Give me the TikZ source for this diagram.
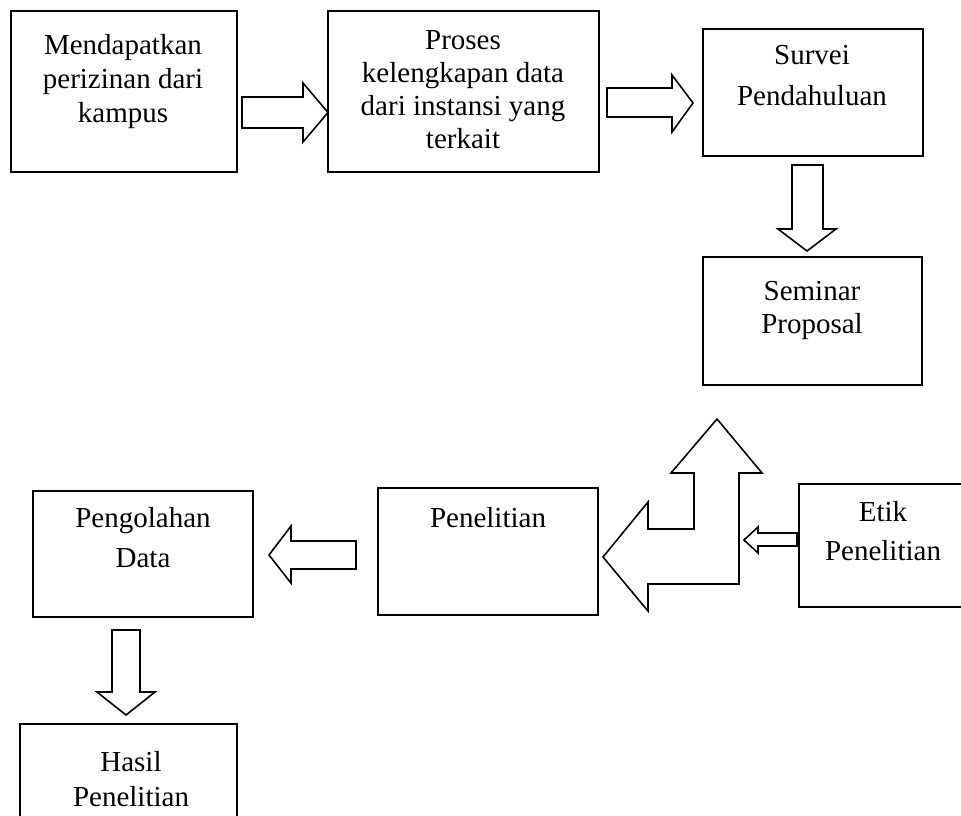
\documentclass[tikz,border=0pt]{standalone}
\usepackage{fontspec}
\setmainfont{Liberation Serif}
\usetikzlibrary{fit}
\tikzset{
  box/.style={draw=black, line width=1.6pt, inner sep=0pt, fill=white},
  txt/.style={align=center, inner sep=0pt, font=\fontsize{29}{34}\selectfont},
  blockarrow/.style={draw=black, line width=1.6pt, line join=miter, fill=white},
}
\begin{document}
\begin{tikzpicture}[x=1pt,y=-1pt]
\clip (0,0) rectangle (961,815);
\fill[white] (0,0) rectangle (961,815);

% boxes
\node[box, fit={(11,11) (237,172)}] (b1) {};
\node[box, fit={(328,11) (599,172)}] (b2) {};
\node[box, fit={(703,29) (923,156)}] (b3) {};
\node[box, fit={(703,257) (922,385)}] (b4) {};
\node[box, fit={(378,488) (598,615)}] (pen) {};
\node[box, fit={(33,491) (253,617)}] (olah) {};
\node[box, fit={(799,484) (975,607)}] (etik) {};
\node[box, fit={(20,724) (237,830)}] (hasil) {};

% texts
\node[txt] (t1) at (123,82) {Mendapatkan\\perizinan dari\\kampus};
\node[txt, font=\fontsize{29}{33}\selectfont] (t2) at (463,89.5) {Proses\\kelengkapan data\\dari instansi yang\\terkait};
\node[txt, font=\fontsize{29}{41}\selectfont] (t3) at (812,76) {Survei\\Pendahuluan};
\node[txt, font=\fontsize{29}{33}\selectfont] (t4) at (812,310) {Seminar\\Proposal};
\node[txt, anchor=base] (t5) at (488,527) {Penelitian};
\node[txt, font=\fontsize{29}{40}\selectfont] (t6) at (143,538) {Pengolahan\\Data};
\node[txt, font=\fontsize{29}{39}\selectfont] (t7) at (883,531.5) {Etik\\Penelitian};
\node[txt, font=\fontsize{29}{35}\selectfont] (t8) at (131,779.5) {Hasil\\Penelitian};

% b1 -> b2
\draw[blockarrow] (242,97) -- (303,97) -- (303,83) -- (328,112.5) -- (303,142) -- (303,128) -- (242,128) -- cycle;
% b2 -> b3
\draw[blockarrow] (607,88) -- (672,88) -- (672,75) -- (693,103) -- (672,132) -- (672,117) -- (607,117) -- cycle;
% b3 -> b4
\draw[blockarrow] (792,165) -- (823,165) -- (823,229) -- (836,229) -- (807,251) -- (778,229) -- (792,229) -- cycle;
% bent arrow (up to seminar, left to penelitian)
\draw[blockarrow] (717,419) -- (762,473) -- (739,473) -- (739,584) -- (648,584) -- (648,611) -- (603,557) -- (648,502) -- (648,529) -- (694,529) -- (694,473) -- (671,473) -- cycle;
% etik -> bent arrow
\draw[blockarrow] (797,533) -- (758,533) -- (758,527) -- (744,540) -- (758,553) -- (758,546) -- (797,546) -- cycle;
% penelitian -> pengolahan
\draw[blockarrow] (356,541) -- (291,541) -- (291,526) -- (269,555) -- (291,583) -- (291,569) -- (356,569) -- cycle;
% pengolahan -> hasil
\draw[blockarrow] (112,630) -- (140,630) -- (140,692) -- (155,692) -- (126,715) -- (97,692) -- (112,692) -- cycle;
\end{tikzpicture}
\end{document}
